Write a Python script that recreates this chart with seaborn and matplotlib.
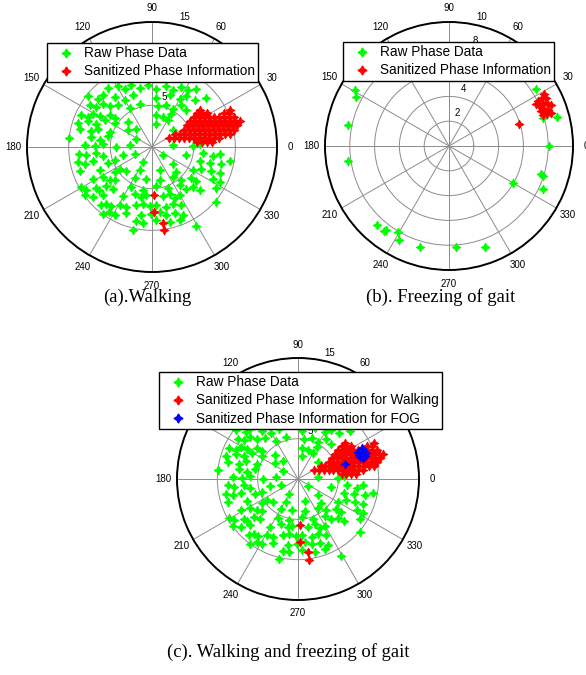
import numpy as np
import pandas as pd
import matplotlib
matplotlib.use("Agg")
import matplotlib.pyplot as plt
import seaborn as sns
from matplotlib.lines import Line2D

# ---------------------------------------------------------------------------
# Phase samples as complex values (real part, imaginary part)
# ---------------------------------------------------------------------------
# Raw phase data recorded while walking
walk_raw = [
    (-5.3, 7.1), (-4.1, 7.3), (-3.3, 7.0), (-2.5, 7.4), (-1.5, 7.1), (-0.5, 7.5),
    (0.5, 7.0), (1.7, 7.3), (2.5, 6.9), (3.5, 7.2), (4.3, 6.8), (5.3, 7.0),
    (-7.7, 6.1), (-6.5, 5.8), (-5.9, 6.2), (-4.5, 6.0), (-3.3, 5.7), (-2.3, 6.2),
    (0.5, 5.9), (2.1, 6.3), (3.3, 5.8), (4.1, 6.1), (5.1, 5.7), (6.5, 5.9),
    (-7.5, 5.0), (-6.7, 4.8), (-5.9, 5.2), (-5.1, 4.9), (-4.1, 5.1), (-2.7, 4.7),
    (-1.5, 5.2), (0.7, 4.9), (1.7, 5.1), (2.5, 4.6), (3.5, 5.0), (4.1, 4.4),
    (-8.5, 3.9), (-7.7, 3.6), (-7.1, 4.0), (-6.3, 3.7), (-5.1, 3.9), (-4.5, 3.5),
    (0.5, 3.9), (1.3, 3.6), (2.3, 4.0),
    (-8.9, 2.9), (-7.7, 3.1), (-6.7, 2.8), (-5.7, 3.2), (-4.5, 2.9), (-2.9, 3.0),
    (0.5, 2.8), (1.9, 3.2),
    (-8.7, 2.1), (-7.3, 1.9), (-6.5, 2.2), (-5.1, 1.8), (-2.9, 2.0), (-1.9, 2.2), (2.5, 2.1),
    (-9.9, 1.1), (-7.3, 1.2), (-6.3, 0.9), (-5.3, 1.3), (-1.9, 1.0),
    (-8.1, 0.3), (-6.9, 0.1), (-5.9, 0.4), (-4.3, 0.0), (-2.7, 0.2), (2.5, 0.3),
    (4.9, 0.1), (5.7, 0.4),
    (-8.7, -0.8), (-7.9, -1.0), (-6.7, -0.7), (-5.9, -1.1), (-3.5, -0.9), (-2.1, -0.8),
    (1.3, -0.9), (4.1, -1.0), (6.1, -0.7), (7.3, -1.1), (8.1, -0.8),
    (-8.9, -1.8), (-8.1, -2.0), (-7.1, -1.7), (-5.3, -1.9), (-4.5, -1.6), (-1.1, -1.8),
    (2.5, -2.0), (5.7, -1.7), (6.9, -1.9), (8.3, -2.0), (9.3, -1.7),
    (-8.7, -2.9), (-6.3, -2.7), (-4.5, -3.0), (-3.9, -2.6), (-3.1, -2.9), (-1.5, -2.8),
    (0.9, -2.7), (2.9, -3.0), (4.9, -2.8), (5.9, -2.6), (7.1, -2.9), (8.1, -3.1),
    (-7.1, -3.8), (-5.9, -3.6), (-5.1, -3.9), (-4.5, -4.0), (-2.1, -3.7), (-0.7, -3.8),
    (0.9, -4.0), (2.5, -3.6), (3.5, -3.9), (4.7, -3.7), (5.3, -4.1), (7.3, -3.8), (8.1, -4.2),
    (-8.5, -4.8), (-7.9, -5.1), (-6.7, -4.9), (-6.3, -5.2), (-5.5, -4.7), (-4.7, -5.0),
    (-2.5, -4.8), (-1.1, -5.1), (0.5, -4.7), (1.9, -4.9), (3.3, -4.6), (4.1, -5.0),
    (4.9, -4.8), (5.7, -5.2), (7.7, -4.9), (7.7, -6.6),
    (-8.1, -5.8), (-7.1, -6.0), (-5.9, -5.7), (-3.5, -5.9), (-2.1, -5.6), (-1.3, -6.0),
    (-0.7, -5.8), (1.3, -5.9), (2.1, -5.6), (2.7, -6.1), (3.3, -5.8),
    (-6.1, -7.0), (-5.5, -6.8), (-4.9, -7.1), (-3.9, -6.9), (-3.1, -7.2), (-1.9, -7.0),
    (-1.1, -6.8), (-0.3, -7.1), (0.5, -6.9), (1.7, -7.2), (2.5, -6.8), (3.5, -7.0),
    (-5.9, -8.0), (-5.1, -7.8), (-4.5, -8.1), (-3.1, -7.9), (-1.3, -8.2), (-0.1, -8.0),
    (0.9, -7.8), (1.7, -8.1), (2.7, -7.9), (3.7, -8.2),
    (-1.9, -8.9), (-1.1, -9.1), (0.5, -8.8), (2.1, -9.0), (3.3, -8.7),
    (-2.3, -9.9), (5.3, -9.5),
]

# Sanitized phase information while walking
walk_clean = [
    (5.4, 0.6), (6.0, 0.6), (6.6, 0.6), (7.2, 0.6),
    (2.0, 1.1), (2.6, 1.1), (3.2, 1.1), (3.8, 1.1), (4.4, 1.1), (5.0, 1.1),
    (5.6, 1.1), (6.2, 1.1), (6.8, 1.1), (7.4, 1.1), (8.0, 1.1),
    (2.8, 1.6), (3.4, 1.6), (4.0, 1.6), (4.6, 1.6), (5.2, 1.6), (5.8, 1.6),
    (6.4, 1.6), (7.0, 1.6), (7.6, 1.6), (8.2, 1.6), (8.8, 1.6), (9.4, 1.6),
    (3.8, 2.1), (4.4, 2.1), (5.0, 2.1), (5.6, 2.1), (6.2, 2.1), (6.8, 2.1),
    (7.4, 2.1), (8.0, 2.1), (8.6, 2.1), (9.2, 2.1), (9.8, 2.1),
    (4.2, 2.6), (4.8, 2.6), (5.4, 2.6), (6.0, 2.6), (6.6, 2.6), (7.2, 2.6),
    (7.8, 2.6), (8.4, 2.6), (9.0, 2.6), (9.6, 2.6), (10.2, 2.6),
    (4.6, 3.1), (5.2, 3.1), (5.8, 3.1), (6.4, 3.1), (7.0, 3.1), (7.6, 3.1),
    (8.2, 3.1), (8.8, 3.1), (9.4, 3.1), (10.0, 3.1), (10.5, 3.1),
    (5.0, 3.6), (5.6, 3.6), (6.2, 3.6), (6.8, 3.6), (7.4, 3.6), (8.0, 3.6),
    (8.6, 3.6), (9.2, 3.6), (9.8, 3.6),
    (5.4, 4.1), (6.0, 4.1), (6.6, 4.1), (8.6, 4.1), (9.2, 4.1),
    (5.8, 4.5), (9.4, 4.5),
    (0.24, -5.76), (0.24, -7.84), (1.3, -9.1), (1.4, -10.0),
]

# Raw phase data recorded during freezing of gait
fog_raw = [
    (-7.58, 4.54), (-7.53, 3.95), (-8.12, 1.72), (-8.12, -1.21),
    (-5.83, -6.40), (-5.24, -6.88), (-5.08, -6.75), (-4.09, -6.94), (-4.01, -7.55),
    (-2.34, -8.15), (0.56, -8.15), (2.90, -8.15),
    (5.19, -2.96), (7.39, -2.28), (7.55, -2.39), (7.55, -3.47), (8.09, 0.0),
    (6.99, 4.57), (8.68, 2.34), (7.55, 2.28),
]

# Sanitized phase information during freezing of gait
fog_clean = [
    (7.2, 3.6), (7.5, 3.9), (7.8, 3.9), (7.3, 3.2), (7.6, 3.4), (7.9, 3.5),
    (8.2, 3.3), (7.4, 2.8), (7.7, 2.9), (8.0, 2.9), (7.6, 2.5), (7.9, 2.6),
    (8.2, 2.7), (7.7, 4.2), (7.0, 3.4), (7.5, 3.1), (5.67, 1.80),
]

# Sanitized FOG phase shown together with the walking data
fog_clean_c = [
    (7.6, 3.4), (7.9, 3.6), (8.2, 3.5), (7.5, 3.0), (7.8, 3.1), (8.1, 3.0),
    (8.4, 3.2), (7.7, 2.7), (8.0, 2.6), (8.3, 2.8), (7.9, 3.9), (7.4, 3.3),
    (8.0, 3.3), (5.8, 1.8),
]

angle_ticks = list(range(0, 360, 30))
rings_walk = [5, 10, 15]
rings_fog = [2, 4, 6, 8, 10]

GREEN, RED, BLUE = "#00ff00", "#ff0000", "#0000ff"
STAR = (4, 1, 0)

plt.rcParams["font.family"] = ["Liberation Sans", "DejaVu Sans"]


def to_polar(points):
    arr = np.asarray(points, dtype=float)
    return pd.DataFrame({"theta": np.arctan2(arr[:, 1], arr[:, 0]),
                         "r": np.hypot(arr[:, 0], arr[:, 1])})


fig = plt.figure(figsize=(5.86, 6.75), dpi=100)


def polar_panel(rect, rings, layers):
    ax = fig.add_axes(rect, projection="polar")
    for pts, color in layers:
        sns.scatterplot(data=to_polar(pts), x="theta", y="r", ax=ax,
                        color=color, marker=STAR, s=40, linewidth=0.6,
                        edgecolor=color, legend=False, zorder=3)
    rmax = rings[-1]
    ax.set_ylim(0, rmax)
    ax.set_xticks(np.deg2rad(angle_ticks))
    ax.set_xticklabels([])
    ax.set_yticks(rings[:-1])
    ax.set_yticklabels([])
    ax.set_xlabel("")
    ax.set_ylabel("")
    ax.grid(True, color="#8c8c8c", linewidth=0.7)
    ax.spines["polar"].set_color("black")
    ax.spines["polar"].set_linewidth(1.4)
    for deg in angle_ticks:
        ax.text(np.deg2rad(deg), rmax * 1.11, str(deg), ha="center",
                va="center", fontsize=7, clip_on=False)
    for ring in rings:
        ax.text(np.deg2rad(76), ring + 0.075 * rmax, str(ring), ha="center",
                va="center", fontsize=7, clip_on=False, zorder=4)
    return ax


def add_legend(anchor, entries):
    handles = [Line2D([], [], linestyle="none", marker=STAR, markersize=6.5,
                      color=c, markeredgecolor=c) for _, c in entries]
    leg = fig.legend(handles, [t for t, _ in entries], loc="upper left",
                     bbox_to_anchor=anchor, bbox_transform=fig.transFigure,
                     fontsize=9.8, frameon=True, fancybox=False, framealpha=1,
                     edgecolor="black", borderpad=0.25, labelspacing=0.3,
                     handlelength=2.3, handletextpad=0.15, borderaxespad=0)
    leg.get_frame().set_linewidth(1.0)
    leg.set_zorder(10)
    return leg


# (a) walking
polar_panel([27 / 586, 1 - 272 / 675, 250 / 586, 250 / 675], rings_walk,
            [(walk_raw, GREEN), (walk_clean, RED)])
add_legend((47 / 586, 1 - 43 / 675),
           [("Raw Phase Data", GREEN), ("Sanitized Phase Information", RED)])

# (b) freezing of gait
polar_panel([325 / 586, 1 - 270 / 675, 248 / 586, 248 / 675], rings_fog,
            [(fog_raw, GREEN), (fog_clean, RED)])
add_legend((343 / 586, 1 - 42 / 675),
           [("Raw Phase Data", GREEN), ("Sanitized Phase Information", RED)])

# (c) walking and freezing of gait
polar_panel([177 / 586, 1 - 600 / 675, 242 / 586, 242 / 675], rings_walk,
            [(walk_raw, GREEN), (walk_clean, RED), (fog_clean_c, BLUE)])
add_legend((159 / 586, 1 - 372 / 675),
           [("Raw Phase Data", GREEN),
            ("Sanitized Phase Information for Walking", RED),
            ("Sanitized Phase Information for FOG", BLUE)])

serif = dict(family=["Liberation Serif", "DejaVu Serif"], fontsize=13.4,
             ha="center", va="center")
fig.text(147 / 586, 1 - 297 / 675, "(a).Walking", **serif)
fig.text(441 / 586, 1 - 297 / 675, "(b). Freezing of gait", **serif)
fig.text(288 / 586, 1 - 652 / 675, "(c). Walking and freezing of gait", **serif)

fig.savefig("out.png", dpi=100)
